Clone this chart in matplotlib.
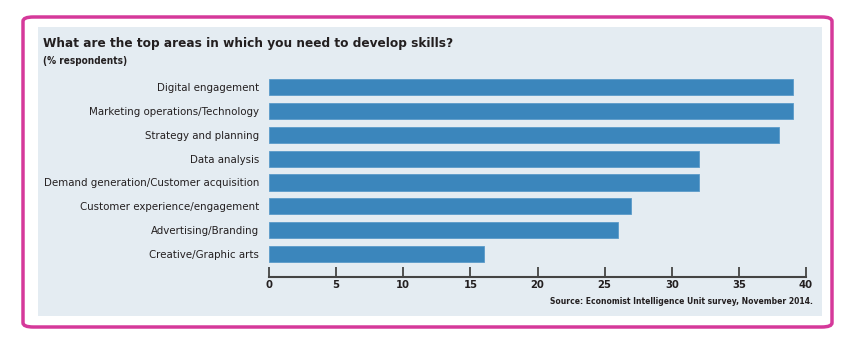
import matplotlib
matplotlib.use("Agg")
from matplotlib import pyplot as plt
from matplotlib.patches import FancyBboxPatch, Rectangle

categories = ["Digital engagement", "Marketing operations/Technology",
              "Strategy and planning", "Data analysis",
              "Demand generation/Customer acquisition",
              "Customer experience/engagement", "Advertising/Branding",
              "Creative/Graphic arts"]
values = [39, 39, 38, 32, 32, 27, 26, 16]
xticks = [0, 5, 10, 15, 20, 25, 30, 35, 40]

title = "What are the top areas in which you need to develop skills?"
subtitle = "(% respondents)"
source = "Source: Economist Intelligence Unit survey, November 2014."

plt.rcParams['font.family'] = ['DejaVu Sans']
plt.rcParams['font.stretch'] = 'condensed'
W, H = 859, 351
text_col = "#231f20"
bar_col = "#3b86bc"
panel_col = "#e4ecf2"
pink = "#d5399a"

fig = plt.figure(figsize=(W / 100, H / 100), dpi=100)
fig.patch.set_facecolor("white")

# pink rounded frame and the light panel
fig.patches.append(FancyBboxPatch((23 / W, 1 - 327 / H), 809 / W, 310 / H,
                                  boxstyle="round,pad=0,rounding_size=0.012",
                                  transform=fig.transFigure, facecolor="white",
                                  edgecolor=pink, linewidth=2.5, zorder=0))
fig.patches.append(Rectangle((38 / W, 1 - 316 / H), 784 / W, 289 / H,
                             transform=fig.transFigure, facecolor=panel_col,
                             edgecolor="none", zorder=1))

ax = fig.add_axes([269 / W, 1 - 277 / H, 537 / W, 204 / H])
ax.set_zorder(3)
ax.set_facecolor("none")
y = list(range(len(categories)))
ax.barh(y, values, height=0.68, color=bar_col, edgecolor="#5b9bc9", linewidth=0.6)
ax.set_xlim(0, 40)
ax.set_ylim(7.97, -0.6)
ax.set_xticks(xticks)
ax.set_xticklabels([str(t) for t in xticks], fontsize=8, fontweight="bold", color=text_col)
ax.set_yticks(y)
ax.set_yticklabels(categories, fontsize=8.2, color=text_col)
ax.tick_params(axis="y", length=0, pad=7)
ax.tick_params(axis="x", direction="in", length=7, width=1.3, color="#444444", pad=2)
for s in ["top", "right", "left"]:
    ax.spines[s].set_visible(False)
ax.spines["bottom"].set_color("#444444")
ax.spines["bottom"].set_linewidth(1.5)

fig.text(43 / W, 1 - 44 / H, title, fontsize=9.7, fontweight="bold",
         color=text_col, va="center", ha="left", zorder=3)
fig.text(43 / W, 1 - 61 / H, subtitle, fontsize=7.2, fontweight="bold",
         color=text_col, va="center", ha="left", zorder=3)
fig.text(813 / W, 1 - 302 / H, source, fontsize=6.1, fontweight="bold",
         color=text_col, va="center", ha="right", zorder=3)

fig.savefig("out.png", dpi=100)
